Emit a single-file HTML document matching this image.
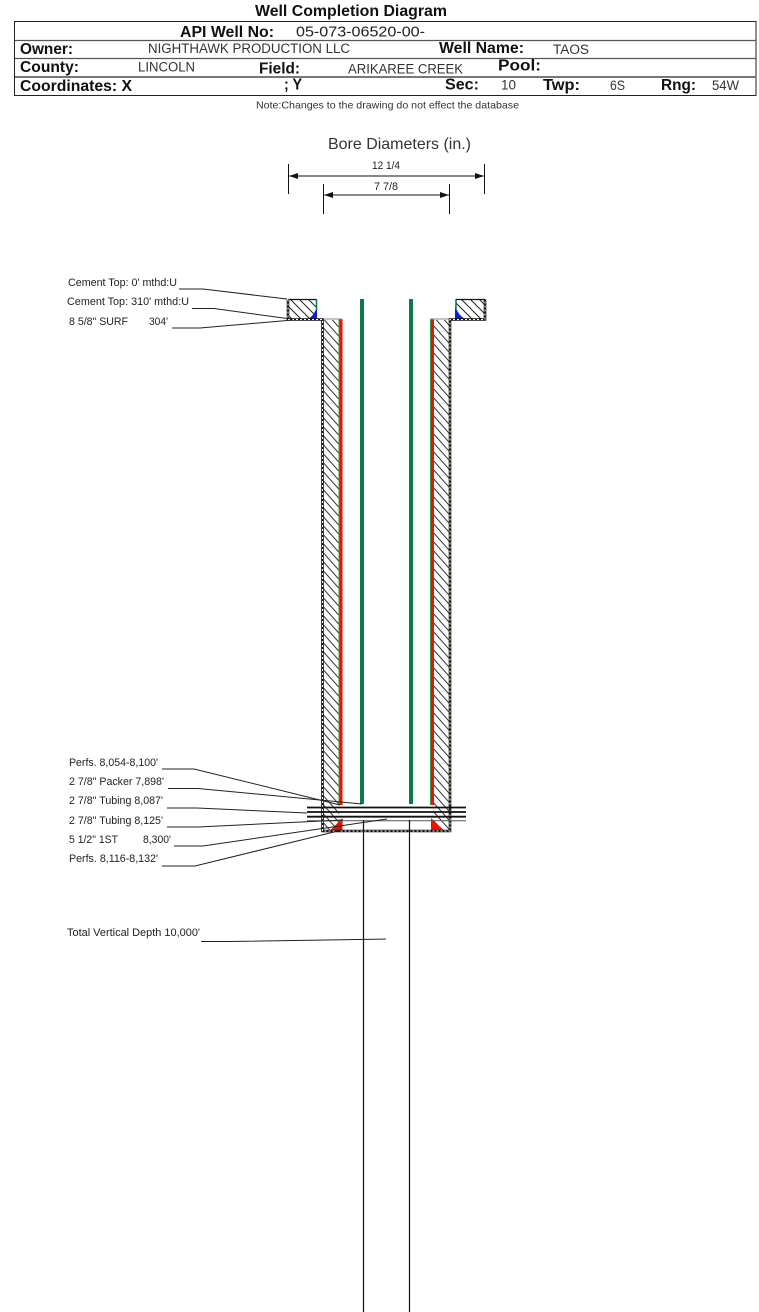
<!DOCTYPE html>
<html><head><meta charset="utf-8"><style>html,body{margin:0;padding:0;background:#fff}svg{display:block}text{font-family:"Liberation Sans",Arial,sans-serif;fill:#111}.b{font-weight:bold;font-size:15.5px}.r{font-size:13.5px;fill:#333}.s{font-size:11px;fill:#222}</style></head><body>
<svg width="759" height="1312" viewBox="0 0 759 1312" xmlns="http://www.w3.org/2000/svg">
<defs>
<pattern id="h" width="9" height="9" patternUnits="userSpaceOnUse"><path d="M-2 -2L11 11M-2 7L2 11M7 -2L11 2" stroke="#222" stroke-width="1" fill="none"/></pattern>
<pattern id="h2" width="8" height="9" patternUnits="userSpaceOnUse"><path d="M-1 -1.125L9 10.125" stroke="#333" stroke-width="1" fill="none"/><path d="M-1 7.875L2 11.250M6 -2.250L9 1.125" stroke="#333" stroke-width="1" fill="none"/></pattern>
</defs>
<text class="b" x="255" y="16" textLength="192" lengthAdjust="spacingAndGlyphs">Well Completion Diagram</text>
<rect x="14.500" y="21.500" width="741.500" height="74" fill="none" stroke="#222" stroke-width="1"/>
<path d="M15 40.500H756M15 58.500H756" stroke="#555" stroke-width="1.200" fill="none"/>
<path d="M15 77H756" stroke="#777" stroke-width="2" fill="none"/>
<text class="b" x="180" y="37" textLength="94" lengthAdjust="spacingAndGlyphs">API Well No:</text>
<text style="font-size:15px;fill:#222" x="296" y="36.700" textLength="129" lengthAdjust="spacingAndGlyphs">05-073-06520-00-</text>
<text class="b" x="20" y="54" textLength="53" lengthAdjust="spacingAndGlyphs">Owner:</text>
<text class="r" x="148" y="53" textLength="202" lengthAdjust="spacingAndGlyphs">NIGHTHAWK PRODUCTION LLC</text>
<text class="b" x="439" y="53" textLength="85" lengthAdjust="spacingAndGlyphs">Well Name:</text>
<text class="r" x="553" y="54" textLength="36" lengthAdjust="spacingAndGlyphs">TAOS</text>
<text class="b" x="20" y="72" textLength="59" lengthAdjust="spacingAndGlyphs">County:</text>
<text class="r" x="138" y="71.700" textLength="57" lengthAdjust="spacingAndGlyphs">LINCOLN</text>
<text class="b" x="259" y="73.300" textLength="41" lengthAdjust="spacingAndGlyphs">Field:</text>
<text class="r" x="348" y="73.300" textLength="115" lengthAdjust="spacingAndGlyphs">ARIKAREE CREEK</text>
<text class="b" x="498" y="70.700" textLength="43" lengthAdjust="spacingAndGlyphs">Pool:</text>
<text class="b" x="20" y="91" textLength="112" lengthAdjust="spacingAndGlyphs">Coordinates: X</text>
<text class="b" x="284" y="89.500" textLength="18" lengthAdjust="spacingAndGlyphs">; Y</text>
<text class="b" x="445" y="89.500" textLength="34" lengthAdjust="spacingAndGlyphs">Sec:</text>
<text class="r" x="501" y="89.500" textLength="15" lengthAdjust="spacingAndGlyphs">10</text>
<text class="b" x="543" y="90" textLength="37" lengthAdjust="spacingAndGlyphs">Twp:</text>
<text class="r" x="610" y="90" textLength="15" lengthAdjust="spacingAndGlyphs">6S</text>
<text class="b" x="661" y="90" textLength="35" lengthAdjust="spacingAndGlyphs">Rng:</text>
<text class="r" x="712" y="90" textLength="27" lengthAdjust="spacingAndGlyphs">54W</text>
<text style="font-size:10.500px;fill:#333" x="256" y="108.700" textLength="263" lengthAdjust="spacingAndGlyphs">Note:Changes to the drawing do not effect the database</text>

<text style="font-size:16px;fill:#333" x="328" y="149" textLength="143" lengthAdjust="spacingAndGlyphs">Bore Diameters (in.)</text>
<text class="s" x="372" y="169" textLength="28" lengthAdjust="spacingAndGlyphs">12 1/4</text>
<text class="s" x="374" y="190" textLength="24" lengthAdjust="spacingAndGlyphs">7 7/8</text>
<g stroke="#111" stroke-width="1" fill="none">
<path d="M288.500 164V194M484.500 164V194M323.500 184V214M449.500 184V214M289 176H484M324 195H449"/>
</g>
<g fill="#111">
<path d="M289 176l9-3v6zM484 176l-9-3v6zM324 195l9-3v6zM449 195l-9-3v6z"/>
</g>

<!-- cement caps -->
<rect x="288" y="300" width="28" height="19" fill="url(#h)"/>
<rect x="456" y="300" width="29" height="19" fill="url(#h)"/>
<path d="M317 306V319H308Q315 315 317 306Z" fill="#0a1ee0"/>
<path d="M455 306V319H465Q458 315 455 306Z" fill="#0a1ee0"/>
<path d="M316.500 299V310M456 299V310" stroke="#0a7a3a" stroke-width="1.500"/>
<!-- casing hatch -->
<rect x="323" y="320" width="16" height="511" fill="url(#h2)"/>
<rect x="434" y="320" width="16" height="511" fill="url(#h2)"/>
<rect x="339.500" y="319" width="3" height="486" fill="#ee1100"/>
<rect x="431" y="319" width="3" height="486" fill="#ee1100"/>
<path d="M339 319V805M430.500 319V805" stroke="#3a9a4a" stroke-width="1"/>
<path d="M323 319H342M430 319H450" stroke="#888" stroke-width="1"/>
<rect x="339.500" y="820" width="3" height="10" fill="#ee1100"/>
<rect x="431" y="820" width="3" height="10" fill="#ee1100"/>
<path d="M330 830.500L342.500 818V830.500Z" fill="#ee1100"/>
<path d="M431 818L444 830.500H431Z" fill="#ee1100"/>
<!-- tubing -->
<rect x="360" y="299" width="4" height="505" fill="#0a7f3a"/>
<rect x="409" y="299" width="4" height="505" fill="#0a7f3a"/>
<rect x="361.200" y="299" width="1.600" height="505" fill="#146f62"/>
<rect x="410.200" y="299" width="1.600" height="505" fill="#146f62"/>
<!-- borders -->
<g fill="none" stroke="#111" stroke-width="1.300">
<path d="M288 299.500H316M456 299.500H485"/>
</g>
<g fill="none" stroke="#111" stroke-width="2.600">
<path d="M288 299.500V319.500H322.500V831H450V319.500H485V299.500"/>
</g>
<g fill="none" stroke="#fff" stroke-width="1" stroke-dasharray="2 2">
<path d="M288 299.500V319.500H322.500V831H450V319.500H485V299.500"/>
</g>
<!-- packer lines -->
<g stroke="#111" fill="none">
<path d="M307 807.500H466M307 812H466M307 816.700H466" stroke-width="1.800"/>
<path d="M307 820.700H466" stroke-width="1" stroke="#555"/>
<path d="M363.500 820V1312M409.500 820V1312" stroke-width="1.200"/>
</g>
<!-- leaders -->
<g fill="none" stroke="#222" stroke-width="1">
<path d="M179 289H203L287 299"/>
<path d="M192 308.500H214L287 318.500"/>
<path d="M172 328H200L293 320"/>
<path d="M162 769H194L340 805"/>
<path d="M168 788.500H198L362 804"/>
<path d="M167 808H197L307 813"/>
<path d="M167 827H198L343 820"/>
<path d="M174 846H203L387 819"/>
<path d="M162 866H195L342 830"/>
<path d="M201 941.500H230L386 939"/>
</g>
<!-- labels -->
<text class="s" x="68" y="286" textLength="109" lengthAdjust="spacingAndGlyphs">Cement Top: 0' mthd:U</text>
<text class="s" x="67" y="305" textLength="122" lengthAdjust="spacingAndGlyphs">Cement Top: 310' mthd:U</text>
<text class="s" x="69" y="325" textLength="59" lengthAdjust="spacingAndGlyphs">8 5/8" SURF</text>
<text class="s" x="149" y="325" textLength="19" lengthAdjust="spacingAndGlyphs">304'</text>
<text class="s" x="69" y="766" textLength="89" lengthAdjust="spacingAndGlyphs">Perfs. 8,054-8,100'</text>
<text class="s" x="69" y="785" textLength="95" lengthAdjust="spacingAndGlyphs">2 7/8" Packer 7,898'</text>
<text class="s" x="69" y="804" textLength="94" lengthAdjust="spacingAndGlyphs">2 7/8" Tubing 8,087'</text>
<text class="s" x="69" y="824" textLength="94" lengthAdjust="spacingAndGlyphs">2 7/8" Tubing 8,125'</text>
<text class="s" x="69" y="843" textLength="49" lengthAdjust="spacingAndGlyphs">5 1/2" 1ST</text>
<text class="s" x="143" y="843" textLength="28" lengthAdjust="spacingAndGlyphs">8,300'</text>
<text class="s" x="69" y="862" textLength="89" lengthAdjust="spacingAndGlyphs">Perfs. 8,116-8,132'</text>
<text class="s" x="67" y="936" textLength="133" lengthAdjust="spacingAndGlyphs">Total Vertical Depth 10,000'</text>
</svg>
</body></html>
